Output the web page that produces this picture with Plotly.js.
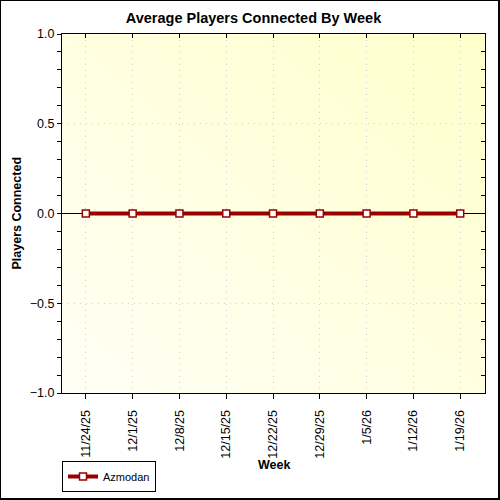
<!DOCTYPE html>
<html>
<head>
<meta charset="utf-8">
<script src="https://cdn.plot.ly/plotly-3.0.1.min.js"></script>
<style>
  body { margin: 0; background: #fff; }
  #wrap { position: relative; width: 500px; height: 500px; }
  #frame { position: absolute; left: 0; top: 0; width: 500px; height: 500px;
           box-sizing: border-box; border: 1px solid #000; border-right-width: 2px;
           border-bottom-width: 2px; pointer-events: none; }
</style>
</head>
<body>
<div id="wrap">
  <div id="chart"></div>
  <div id="frame"></div>
</div>
<script>
let weeks = ['11/24/25', '12/1/25', '12/8/25', '12/15/25', '12/22/25', '12/29/25', '1/5/26', '1/12/26', '1/19/26']
let azmodan = [0, 0, 0, 0, 0, 0, 0, 0, 0]
let y_labels = [-1, -0.5, 0, 0.5, 1]

let font_name = '"Liberation Sans", Arial, sans-serif'

// pale yellow wash behind the plot area
let bg_svg = '<svg xmlns="http://www.w3.org/2000/svg" width="100" height="100" preserveAspectRatio="none">' +
  '<defs><linearGradient id="g" x1="0" y1="1" x2="1" y2="0">' +
  '<stop offset="0" stop-color="#FFFFF6"/><stop offset="1" stop-color="#FFFFCC"/>' +
  '</linearGradient></defs><rect width="100" height="100" fill="url(#g)"/></svg>'

let x_range = [-0.51, weeks.length - 1 + 0.53]
let grid_dash = '1px,5px'

let main_trace = {
  x: weeks,
  y: azmodan,
  name: 'Azmodan',
  mode: 'lines+markers',
  type: 'scatter',
  line: {color: '#990000', width: 4},
  marker: {symbol: 'square', size: 7, color: '#ffffff', line: {color: '#990000', width: 1.5}},
  cliponaxis: false
}

// empty trace so the mirrored top/right axes get drawn
let frame_trace = {
  x: weeks,
  y: azmodan,
  xaxis: 'x2',
  yaxis: 'y2',
  mode: 'none',
  type: 'scatter',
  showlegend: false,
  hoverinfo: 'skip'
}

let layout = {
  width: 500,
  height: 500,
  margin: {l: 62, r: 15, t: 34, b: 107},
  paper_bgcolor: '#ffffff',
  plot_bgcolor: 'rgba(0,0,0,0)',
  font: {family: font_name, size: 12, color: '#000'},
  title: {text: '<b>Average Players Connected By Week</b>', x: 0.507, xref: 'container', y: 0.964, yanchor: 'middle',
          font: {family: font_name, size: 14.5, color: '#000'}},
  images: [{source: 'data:image/svg+xml;utf8,' + encodeURIComponent(bg_svg), xref: 'paper', yref: 'paper',
            x: 0, y: 1, sizex: 1, sizey: 1, sizing: 'stretch', layer: 'below'}],
  annotations: [
    {text: '<b>Week</b>', xref: 'paper', yref: 'paper', x: 0.5, y: -0.2006, xanchor: 'center', yanchor: 'middle',
     showarrow: false, font: {size: 12.5}},
    {text: '<b>Players Connected</b>', xref: 'paper', yref: 'paper', x: -0.1087, y: 0.5, xanchor: 'center', yanchor: 'middle',
     textangle: -90, showarrow: false, font: {size: 12.5}}
  ],
  xaxis: {
    type: 'category',
    range: x_range,
    showline: true, linecolor: '#000', linewidth: 1,
    ticks: 'outside', ticklen: 5, tickcolor: '#000',
    tickangle: -90,
    ticklabelstandoff: 6,
    tickfont: {size: 12.5},
    showgrid: true, gridcolor: '#cfcfcf', griddash: grid_dash, gridwidth: 1,
    fixedrange: true
  },
  yaxis: {
    range: [-1, 1],
    tickvals: y_labels,
    tickformat: '.1f',
    showline: true, linecolor: '#000', linewidth: 1,
    ticks: 'outside', ticklen: 4, tickcolor: '#000',
    tickfont: {size: 12.5},
    minor: {dtick: 0.1, tick0: 0, ticks: 'outside', ticklen: 4, tickcolor: '#000', showgrid: false},
    showgrid: true, gridcolor: '#cfcfcf', griddash: grid_dash, gridwidth: 1,
    zeroline: true, zerolinecolor: '#000', zerolinewidth: 1,
    fixedrange: true
  },
  xaxis2: {
    type: 'category',
    overlaying: 'x',
    side: 'top',
    anchor: 'y2',
    range: x_range,
    showline: true, linecolor: '#000', linewidth: 1,
    ticks: 'inside', ticklen: 4, tickcolor: '#000',
    showticklabels: false, showgrid: false, zeroline: false
  },
  yaxis2: {
    overlaying: 'y',
    side: 'right',
    anchor: 'x2',
    range: [-1, 1],
    dtick: 0.1,
    showline: true, linecolor: '#000', linewidth: 1,
    ticks: 'inside', ticklen: 4, tickcolor: '#000',
    showticklabels: false, showgrid: false, zeroline: false
  },
  showlegend: true,
  legend: {
    xref: 'paper', x: 0, xanchor: 'left',
    yref: 'container', y: 0.016, yanchor: 'bottom',
    orientation: 'h',
    bordercolor: '#000', borderwidth: 1, bgcolor: '#ffffff',
    font: {size: 11},
    itemwidth: 30,
    tracegroupgap: 0
  }
}

Plotly.newPlot('chart', [main_trace, frame_trace], layout, {displayModeBar: false, staticPlot: true})
</script>
</body>
</html>
